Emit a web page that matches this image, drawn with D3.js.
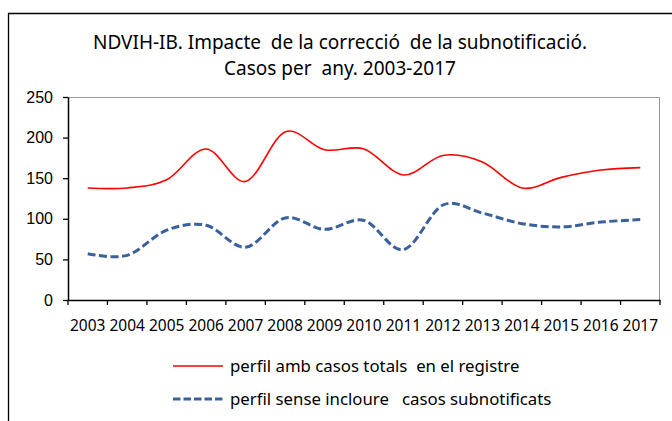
<!DOCTYPE html>
<html>
<head>
<meta charset="utf-8">
<script src="https://cdn.jsdelivr.net/npm/d3@7"></script>
<style>
  body { margin: 0; background: #fff; }
  svg { display: block; }
  svg text { white-space: pre; }
</style>
</head>
<body>
<script>
const years = ['2003', '2004', '2005', '2006', '2007', '2008', '2009', '2010',
  '2011', '2012', '2013', '2014', '2015', '2016', '2017'];
const totals = [138, 138, 148, 186, 146, 207, 185, 186, 154, 178, 170, 138, 151, 160, 163];
const senseSub = [57, 55, 86, 92, 65, 101, 87, 98, 62, 117, 107, 94, 90, 96, 99];
const yTicks = [0, 50, 100, 150, 200, 250];
const titleLines = ['NDVIH-IB. Impacte  de la correcció  de la subnotificació.', 'Casos per  any. 2003-2017'];
const legendLabels = ['perfil amb casos totals  en el registre', 'perfil sense incloure   casos subnotificats'];

const width = 672, height = 421;
const margin = { top: 97, right: 12, bottom: 121, left: 68 };

const svg = d3.select('body').append('svg')
  .attr('width', width)
  .attr('height', height);

// outer frame (top + left only visible)
svg.append('path')
  .attr('d', `M8.5,${height} V13.5 H${width}`)
  .attr('fill', 'none')
  .attr('stroke', '#000')
  .attr('stroke-width', 1.3);

const x = d3.scaleBand().domain(years).range([margin.left, width - margin.right]);
const y = d3.scaleLinear().domain([0, 250]).range([height - margin.bottom, margin.top]);

// plot area border (gray top/right)
svg.append('path')
  .attr('d', `M${margin.left},${y(250) + 0.5} H${width - margin.right - 0.5} V${y(0)}`)
  .attr('fill', 'none')
  .attr('stroke', '#999')
  .attr('stroke-width', 1);

// title
svg.append('g')
  .selectAll('text')
  .data(titleLines)
  .join('text')
  .attr('x', 340)
  .attr('y', (d, i) => 49 + i * 26)
  .attr('text-anchor', 'middle')
  .attr('font-family', 'Noto Sans, Open Sans, sans-serif')
  .attr('font-size', 19)
  .attr('fill', '#000')
  .text((d) => d);

// y axis
const gy = svg.append('g')
  .attr('transform', `translate(${margin.left},0)`)
  .call(d3.axisLeft(y).tickValues(yTicks).tickSize(5).tickSizeOuter(0).tickPadding(10));
gy.select('.domain').attr('stroke', '#000').attr('stroke-width', 1.5);
gy.selectAll('.tick line').attr('stroke', '#000').attr('stroke-width', 1.3);
gy.selectAll('.tick text')
  .attr('font-family', 'Liberation Sans, Arial, sans-serif')
  .attr('font-size', 16)
  .attr('fill', '#000');

// x axis with ticks at category boundaries
const gx = svg.append('g')
  .attr('transform', `translate(0,${y(0)})`)
  .call(d3.axisBottom(x).tickSize(0).tickPadding(20));
gx.select('.domain').attr('stroke', '#000').attr('stroke-width', 1.5);
gx.selectAll('.tick text')
  .attr('font-family', 'Noto Sans, Open Sans, sans-serif')
  .attr('font-size', 15.5)
  .attr('fill', '#000');
gx.append('g')
  .selectAll('line')
  .data(years.concat(['end']))
  .join('line')
  .attr('x1', (d, i) => i < years.length ? x(d) : x(years[years.length - 1]) + x.bandwidth())
  .attr('x2', (d, i) => i < years.length ? x(d) : x(years[years.length - 1]) + x.bandwidth())
  .attr('y1', 0)
  .attr('y2', 5)
  .attr('stroke', '#000')
  .attr('stroke-width', 1.3);

const line = d3.line()
  .x((d, i) => x(years[i]) + x.bandwidth() / 2)
  .y((d) => y(d))
  .curve(d3.curveCardinal.tension(0));

svg.append('path')
  .datum(totals)
  .attr('d', line)
  .attr('fill', 'none')
  .attr('stroke', '#ff0000')
  .attr('stroke-width', 1.6);

svg.append('path')
  .datum(senseSub)
  .attr('d', line)
  .attr('fill', 'none')
  .attr('stroke', '#3a6199')
  .attr('stroke-width', 3)
  .attr('stroke-dasharray', '8,3.5');

// legend
const legend = svg.append('g');
const legendStyles = [
  { stroke: '#ff0000', width: 1.6, dash: null },
  { stroke: '#3a6199', width: 3, dash: '7.5,3' },
];
legendLabels.forEach((label, i) => {
  const ly = 372 + i * 33;
  legend.append('line')
    .attr('x1', 173).attr('x2', 223)
    .attr('y1', ly - 6).attr('y2', ly - 6)
    .attr('stroke', legendStyles[i].stroke)
    .attr('stroke-width', legendStyles[i].width)
    .attr('stroke-dasharray', legendStyles[i].dash);
  legend.append('text')
    .attr('x', 230)
    .attr('y', ly)
    .attr('font-family', 'Noto Sans, Open Sans, sans-serif')
    .attr('font-size', 16.8)
    .attr('fill', '#000')
    .text(label);
});
</script>
</body>
</html>
